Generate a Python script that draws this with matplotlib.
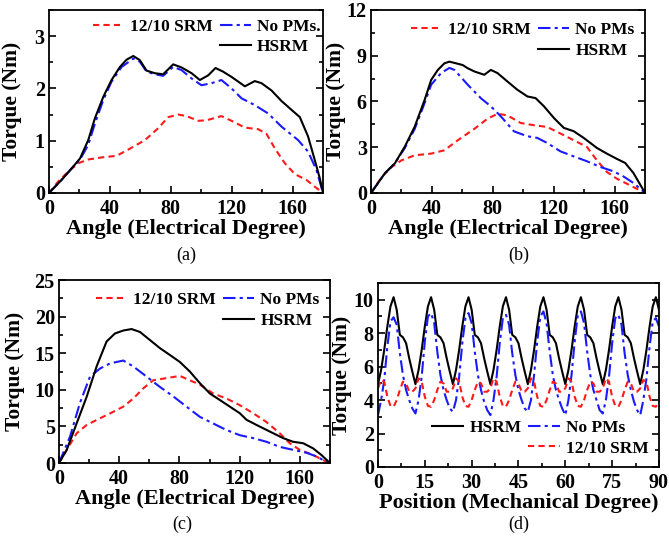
import matplotlib
matplotlib.use("Agg")
import matplotlib.pyplot as plt
from matplotlib.lines import Line2D
from matplotlib.ticker import MultipleLocator

plt.rcParams["font.family"] = ["Liberation Serif", "DejaVu Serif"]
plt.rcParams["font.weight"] = "bold"

# ---- (a) torque vs electrical angle, low current ----
a_ang_hsrm = [0, 8.3, 14.9, 20.4, 25.8, 30.2, 35.7, 41.1, 46.6, 51, 55.4, 59.7, 64.1, 69.6, 75,
              81.6, 87.1, 93.7, 99.1, 104.6, 109.4, 114.4, 119.9, 124.3, 128.7, 135.2, 139.6,
              146.2, 152.7, 159.3, 164.8, 170.2, 174.6, 177.9, 180]
a_hsrm = [0, 0.25, 0.47, 0.66, 1.01, 1.43, 1.84, 2.16, 2.41, 2.55, 2.62, 2.54, 2.34, 2.29, 2.27,
          2.46, 2.40, 2.29, 2.16, 2.25, 2.39, 2.32, 2.22, 2.13, 2.04, 2.14, 2.10,
          1.96, 1.76, 1.59, 1.45, 1.08, 0.63, 0.28, 0]
a_ang_nopm = [0, 8.3, 14.9, 20.4, 25.8, 30.2, 35.7, 41.1, 47.7, 55.4, 59.7, 64.1, 69.6, 75, 81.6,
              87.1, 93.7, 100.2, 106.8, 113.3, 119.9, 126.5, 135.2, 144, 152.7, 163.7, 170.2,
              175.7, 180]
a_nopm = [0, 0.25, 0.47, 0.64, 0.92, 1.33, 1.78, 2.13, 2.41, 2.57, 2.51, 2.32, 2.27, 2.24, 2.41,
          2.35, 2.19, 2.06, 2.10, 2.16, 2.0, 1.81, 1.68, 1.52, 1.27, 1.01, 0.79, 0.44, 0]
a_ang_srm = [0, 6.1, 12.7, 19.3, 25.8, 34.6, 44.4, 52.1, 63, 71.8, 78.3, 84.9, 90.4, 98, 103.5,
             113.3, 119.9, 128.7, 137.4, 142.9, 148.4, 154.9, 161.5, 169.1, 174.6, 180]
a_srm = [0, 0.22, 0.41, 0.57, 0.64, 0.68, 0.71, 0.83, 1.01, 1.24, 1.45, 1.5, 1.47, 1.38, 1.39,
         1.47, 1.38, 1.25, 1.22, 1.13, 0.85, 0.57, 0.36, 0.25, 0.12, 0]

# ---- (b) ----
b_ang_hsrm = [0, 9.1, 15.7, 22.2, 28.7, 35.2, 39.5, 43.9, 48.2, 51.5, 55.9, 60.2, 63.5, 67.8,
              74.4, 78.7, 83.1, 89.6, 96.1, 102.7, 108.1, 113.6, 120.1, 126.6, 133.1, 139.7,
              148.4, 154.9, 161.4, 166.9, 172.3, 180]
b_hsrm = [0, 1.29, 1.95, 3.04, 4.35, 6.1, 7.41, 8.07, 8.5, 8.61, 8.5, 8.39, 8.18, 7.97,
          7.75, 8.07, 7.86, 7.31, 6.77, 6.33, 6.22, 5.68, 4.92, 4.27, 4.05, 3.61,
          2.95, 2.58, 2.24, 1.97, 1.32, 0]
b_ang_nopm = [0, 9.1, 15.7, 22.2, 28.7, 35.2, 39.5, 46.1, 51.5, 54.8, 63.5, 72.3, 78.7, 85.2,
              93.9, 102.7, 109.2, 115.7, 124.4, 133.1, 141.8, 150.5, 159.2, 165.7, 172.3, 180]
b_nopm = [0, 1.29, 1.95, 2.95, 4.2, 5.9, 7.1, 7.87, 8.2, 8.07, 7.1, 6.2, 5.68, 5.03,
          4.04, 3.72, 3.61, 3.28, 2.73, 2.4, 2.08, 1.71, 1.42, 1.09, 0.66, 0]
b_ang_srm = [0, 7, 13.5, 20, 28.7, 39.5, 48.2, 56.9, 67.8, 76.5, 83.1, 89.6, 98.3, 107, 115.7,
             124.4, 133.1, 141.8, 148.4, 154.9, 161.4, 168, 176.6, 180]
b_srm = [0, 1.05, 1.7, 2.14, 2.47, 2.58, 2.8, 3.45, 4.2, 4.87, 5.19, 5.09, 4.59, 4.44, 4.33,
         3.9, 3.46, 3.02, 2.14, 1.38, 0.94, 0.61, 0.17, 0]

# ---- (c) ----
c_ang_hsrm = [0, 5.1, 11.7, 18.4, 25, 31.6, 37.2, 42.7, 48.2, 53.8, 60.4, 67, 73.7, 80.3, 86.9,
              93.6, 100.2, 106.9, 113.5, 120.1, 124.6, 131.2, 140, 148.9, 155.5, 162.2, 168.8,
              174.3, 180]
c_hsrm = [0, 1.78, 5.4, 9.06, 13.2, 16.6, 17.7, 18.1, 18.3, 17.9, 16.8, 15.7, 14.75, 13.8, 12.5,
          10.9, 9.5, 8.6, 7.7, 6.8, 5.9, 5.2, 4.3, 3.4, 2.9, 2.7, 2.0, 1.1, 0]
c_ang_nopm = [0, 7.3, 13.9, 20.6, 27.2, 33.8, 42.7, 49.3, 58.2, 67, 75.9, 84.7, 93.6, 102.4,
              111.3, 120.1, 129, 137.8, 146.7, 155.5, 164.4, 171, 175.5, 180]
c_nopm = [0, 3.6, 8.2, 11.8, 12.9, 13.6, 14.0, 13.2, 11.8, 10.4, 9.1, 7.7, 6.3, 5.4,
          4.5, 3.8, 3.4, 2.9, 2.2, 1.8, 1.4, 0.9, 0.4, 0]
c_ang_srm = [0, 5.1, 11.7, 18.4, 27.2, 36.1, 42.7, 49.3, 56, 62.6, 71.5, 80.3, 86.9, 93.6,
             102.4, 111.3, 120.1, 129, 137.8, 146.7, 153.3, 159.9, 168.8, 175.4, 180]
c_srm = [0, 1.8, 4.05, 5.2, 6.1, 7.0, 7.7, 8.8, 10.2, 11.3, 11.6, 11.9, 11.3, 10.7,
         9.5, 8.8, 7.9, 6.8, 5.6, 4.05, 2.7, 1.8, 1.1, 0.4, 0]

# ---- (d) torque vs mechanical position ----
d_pos = list(range(0, 91))
d_hsrm = [4.95, 5.8, 7.0, 8.4, 9.6, 10.15, 9.4, 7.9, 7.75, 7.4, 6.5, 5.7,
          4.95, 5.8, 7.0, 8.4, 9.6, 10.15, 9.4, 7.9, 7.75, 7.4, 6.5, 5.7,
          4.95, 5.8, 7.0, 8.4, 9.6, 10.15, 9.4, 7.9, 7.75, 7.4, 6.5, 5.7,
          4.95, 5.8, 7.0, 8.4, 9.6, 10.15, 9.4, 7.9, 7.75, 7.4, 6.5, 5.7,
          4.95, 5.8, 7.0, 8.4, 9.6, 10.15, 9.4, 7.9, 7.75, 7.4, 6.5, 5.7,
          4.95, 5.8, 7.0, 8.4, 9.6, 10.15, 9.4, 7.9, 7.75, 7.4, 6.5, 5.7,
          4.95, 5.8, 7.0, 8.4, 9.6, 10.15, 9.4, 7.9, 7.75, 7.4, 6.5, 5.7,
          4.95, 5.8, 7.0, 8.4, 9.6, 10.15, 9.4]
d_nopm = [3.1, 4.0, 5.2, 7.2, 8.7, 8.95, 8.5, 6.8, 5.5, 4.6, 4.0, 3.5,
          3.2, 4.0, 5.4, 7.5, 9.0, 9.2, 8.6, 6.9, 5.5, 4.6, 4.0, 3.5,
          3.3, 4.0, 5.4, 7.4, 8.9, 9.2, 8.6, 6.9, 5.5, 4.6, 3.9, 3.4,
          3.1, 4.0, 5.4, 7.4, 8.9, 9.1, 8.5, 6.8, 5.5, 4.6, 4.0, 3.5,
          3.3, 4.0, 5.5, 7.5, 9.0, 9.3, 8.6, 6.9, 5.5, 4.6, 4.0, 3.5,
          3.1, 4.0, 5.5, 7.5, 9.1, 9.3, 8.6, 6.9, 5.5, 4.6, 4.0, 3.4,
          3.2, 4.0, 5.4, 7.4, 8.9, 9.1, 8.5, 6.8, 5.5, 4.6, 3.9, 3.4,
          3.1, 4.0, 5.3, 7.2, 8.7, 8.9, 8.4]
d_srm = [4.7, 5.2, 5.1, 4.2, 3.65, 3.6, 4.0, 4.6, 5.1, 5.0, 4.5, 4.5,
         4.7, 5.3, 5.1, 4.2, 3.65, 3.6, 4.0, 4.6, 5.1, 5.0, 4.5, 4.5,
         4.7, 5.3, 5.1, 4.2, 3.65, 3.6, 4.0, 4.6, 5.1, 5.0, 4.5, 4.5,
         4.7, 5.3, 5.1, 4.2, 3.65, 3.6, 4.0, 4.6, 5.1, 5.0, 4.5, 4.5,
         4.7, 5.3, 5.1, 4.2, 3.65, 3.6, 4.0, 4.6, 5.1, 5.0, 4.5, 4.5,
         4.7, 5.3, 5.1, 4.2, 3.65, 3.6, 4.0, 4.6, 5.1, 5.0, 4.5, 4.5,
         4.7, 5.3, 5.1, 4.2, 3.65, 3.6, 4.0, 4.6, 5.1, 5.0, 4.5, 4.5,
         4.7, 5.2, 5.1, 4.2, 3.65, 3.6, 4.0]

lbl_srm = "12/10 SRM"
lbl_nopm = "No PMs"
lbl_hsrm = "HSRM"

RED = "#ff1a1a"
BLUE = "#1a1aff"
DASH = (0, (3, 2))
DASHDOT = (0, (6, 2, 1.5, 2))


def style_axes(ax, xmax, xmaj, xmin, ymax, ymaj, ymin, ylab_x):
    ax.set_xlim(0, xmax)
    ax.set_ylim(0, ymax)
    ax.xaxis.set_major_locator(MultipleLocator(xmaj))
    ax.xaxis.set_minor_locator(MultipleLocator(xmin))
    ax.yaxis.set_major_locator(MultipleLocator(ymaj))
    ax.yaxis.set_minor_locator(MultipleLocator(ymin))
    ax.tick_params(which="both", direction="in", right=True, top=False,
                   labelsize=14.5, width=1.2)
    ax.tick_params(axis="x", pad=4)
    ax.tick_params(axis="y", pad=3)
    ax.tick_params(which="major", length=5)
    ax.tick_params(which="minor", length=3)
    for s in ax.spines.values():
        s.set_linewidth(1.3)
    ax.set_ylabel("Torque (Nm)", fontsize=15.5, fontweight="bold")
    # right edge of the rotated label, in axes fraction
    ax.yaxis.set_label_coords(ylab_x, 0.5)


def add_legend(ax, h_first, h_a, h_b, loc, anchor):
    blank = Line2D([], [], linestyle="none")
    ax.legend([h_first, blank, h_a, h_b],
              [h_first.get_label(), "", h_a.get_label(), h_b.get_label()],
              ncol=2, loc=loc, bbox_to_anchor=anchor, frameon=False,
              prop={"family": "Liberation Serif", "weight": "bold", "size": 12.5},
              handlelength=1.8, handletextpad=0.35, columnspacing=0.4,
              labelspacing=0.25, borderaxespad=0.2)


def main():
    fig = plt.figure(figsize=(6.69, 5.39), dpi=100)

    # (a)
    ax = fig.add_axes([0.0732, 0.642, 0.4096, 0.3395])
    s, = ax.plot(a_ang_srm, a_srm, color=RED, linestyle=DASH, lw=1.5, label=lbl_srm)
    n, = ax.plot(a_ang_nopm, a_nopm, color=BLUE, linestyle=DASHDOT, lw=1.5, label=lbl_nopm + ".")
    h, = ax.plot(a_ang_hsrm, a_hsrm, color="black", lw=1.5, label=lbl_hsrm)
    style_axes(ax, 180, 40, 20, 3.5, 1, 0.5, -0.1)
    ax.set_xlabel("Angle (Electrical Degree)", fontsize=16, fontweight="bold", labelpad=0)
    add_legend(ax, s, n, h, "upper right", (1.03, 1.01))
    fig.text(0.278, 0.527, "(a)", ha="center", va="center", fontsize=13, fontweight="normal")

    # (b)
    ax = fig.add_axes([0.5546, 0.642, 0.4096, 0.3395])
    s, = ax.plot(b_ang_srm, b_srm, color=RED, linestyle=DASH, lw=1.5, label=lbl_srm)
    n, = ax.plot(b_ang_nopm, b_nopm, color=BLUE, linestyle=DASHDOT, lw=1.5, label=lbl_nopm)
    h, = ax.plot(b_ang_hsrm, b_hsrm, color="black", lw=1.5, label=lbl_hsrm)
    style_axes(ax, 180, 40, 20, 12, 3, 1.5, -0.093)
    ax.set_xlabel("Angle (Electrical Degree)", fontsize=16, fontweight="bold", labelpad=0)
    add_legend(ax, s, n, h, "upper right", (1.0, 0.99))
    fig.text(0.776, 0.527, "(b)", ha="center", va="center", fontsize=13, fontweight="normal")

    # (c)
    ax = fig.add_axes([0.0882, 0.141, 0.405, 0.3395])
    s, = ax.plot(c_ang_srm, c_srm, color=RED, linestyle=DASH, lw=1.5, label=lbl_srm)
    n, = ax.plot(c_ang_nopm, c_nopm, color=BLUE, linestyle=DASHDOT, lw=1.5, label=lbl_nopm)
    h, = ax.plot(c_ang_hsrm, c_hsrm, color="black", lw=1.5, label=lbl_hsrm)
    style_axes(ax, 180, 40, 20, 25, 5, 2.5, -0.125)
    ax.set_xlabel("Angle (Electrical Degree)", fontsize=16, fontweight="bold", labelpad=0)
    add_legend(ax, s, n, h, "upper right", (1.0, 0.99))
    fig.text(0.273, 0.028, "(c)", ha="center", va="center", fontsize=13, fontweight="normal")

    # (d)
    ax = fig.add_axes([0.565, 0.1336, 0.42, 0.3414])
    h, = ax.plot(d_pos, d_hsrm, color="black", lw=1.5, label=lbl_hsrm)
    n, = ax.plot(d_pos, d_nopm, color=BLUE, linestyle=DASHDOT, lw=1.5, label=lbl_nopm)
    s, = ax.plot(d_pos, d_srm, color=RED, linestyle=DASH, lw=1.5, label=lbl_srm)
    style_axes(ax, 90, 15, 7.5, 11, 2, 1, -0.093)
    ax.set_xlabel("Position (Mechanical Degree)", fontsize=16, fontweight="bold", labelpad=0)
    add_legend(ax, h, n, s, "lower right", (1.0, 0.0))
    fig.text(0.776, 0.028, "(d)", ha="center", va="center", fontsize=13, fontweight="normal")

    fig.savefig("out.png", dpi=100)


if __name__ == "__main__":
    main()
